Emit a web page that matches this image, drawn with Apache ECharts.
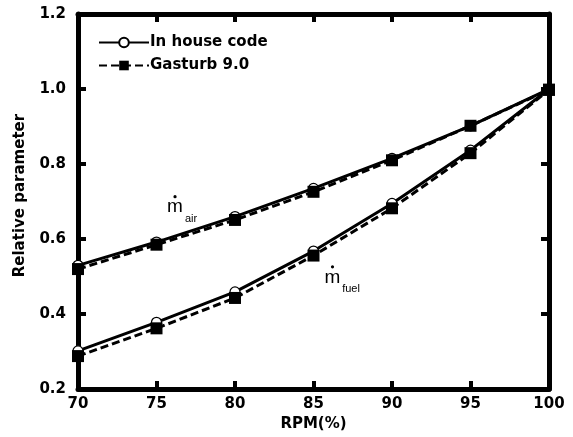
<!DOCTYPE html>
<html>
<head>
<meta charset="utf-8">
<script src="https://cdn.jsdelivr.net/npm/echarts@6/dist/echarts.min.js"></script>
<style>html,body{margin:0;padding:0;background:#fff;}#c{width:573px;height:437px;}</style>
</head>
<body>
<div id="c"></div>
<script>
const rpm = [70, 75, 80, 85, 90, 95, 100];
const airInHouse = [0.530, 0.592, 0.660, 0.735, 0.815, 0.902, 1.000];
const airGasturb = [0.520, 0.585, 0.651, 0.726, 0.810, 0.902, 0.998];
const fuelInHouse = [0.302, 0.378, 0.459, 0.568, 0.695, 0.837, 1.000];
const fuelGasturb = [0.288, 0.362, 0.443, 0.556, 0.682, 0.829, 0.998];
const xTicks = [70, 75, 80, 85, 90, 95, 100];
const yTicks = [0.2, 0.4, 0.6, 0.8, 1.0, 1.2];
const seriesNames = ['In house code', 'Gasturb 9.0'];
const annotations = [
  {sub: 'air', mx: 76.18, my: 0.685, sx: 77.2, sy: 0.653},
  {sub: 'fuel', mx: 86.21, my: 0.498, sx: 87.39, sy: 0.466}
];

const FONT = "'DejaVu Sans', 'Liberation Sans', Arial, sans-serif";
const AFONT = "'Liberation Sans', Arial, sans-serif";
const chart = echarts.init(document.getElementById('c'));
const pair = (xs, ys) => xs.map((x, i) => [x, ys[i]]);

const solid = (name, vals) => ({
  name, type: 'line', data: pair(rpm, vals), xAxisIndex: 0, yAxisIndex: 0,
  symbol: 'circle', symbolSize: 10, z: 2,
  lineStyle: {color: '#000', width: 3},
  itemStyle: {color: '#fff', borderColor: '#000', borderWidth: 1.2},
  emphasis: {disabled: true}, animation: false
});
const dashed = (name, vals) => ({
  name, type: 'line', data: pair(rpm, vals), xAxisIndex: 0, yAxisIndex: 0,
  symbol: 'rect', symbolSize: 12, z: 3,
  lineStyle: {color: '#000', width: 3, type: [8, 4]},
  itemStyle: {color: '#000', borderColor: '#000', borderWidth: 0},
  emphasis: {disabled: true}, animation: false
});

const axisCommon = {
  type: 'value', splitLine: {show: false},
  axisLine: {show: true, lineStyle: {color: '#000', width: 5}},
  axisTick: {show: true, inside: true, length: 8, lineStyle: {color: '#000', width: 4}}
};

chart.setOption({
  animation: false,
  grid: {left: 78, right: 24, top: 14, bottom: 47, containLabel: false},
  legend: {
    orient: 'vertical', left: 93, top: 30, itemWidth: 50, itemHeight: 12, itemGap: 8,
    data: seriesNames,
    textStyle: {fontFamily: FONT, fontWeight: 'bold', fontSize: 15, color: '#000', padding: [0, 0, 0, -4]}
  },
  xAxis: [
    Object.assign({}, axisCommon, {
      position: 'bottom', min: xTicks[0], max: xTicks[xTicks.length - 1], interval: 5,
      name: 'RPM(%)', nameLocation: 'middle', nameGap: 20,
      nameTextStyle: {fontFamily: FONT, fontWeight: 'bold', fontSize: 15, color: '#000'},
      axisLabel: {fontFamily: FONT, fontWeight: 'bold', fontSize: 15, color: '#000', margin: 8}
    }),
    Object.assign({}, axisCommon, {
      position: 'top', min: xTicks[0], max: xTicks[xTicks.length - 1], interval: 5,
      axisLabel: {show: false}
    })
  ],
  yAxis: [
    Object.assign({}, axisCommon, {
      position: 'left', min: yTicks[0], max: yTicks[yTicks.length - 1], interval: 0.2,
      name: 'Relative parameter', nameLocation: 'middle', nameGap: 50, nameRotate: 90,
      nameTextStyle: {fontFamily: FONT, fontWeight: 'bold', fontSize: 15, color: '#000', padding: [0, 0, 0, 12]},
      axisLabel: {fontFamily: FONT, fontWeight: 'bold', fontSize: 15, color: '#000', margin: 12,
        formatter: v => v.toFixed(1)}
    }),
    Object.assign({}, axisCommon, {
      position: 'right', min: yTicks[0], max: yTicks[yTicks.length - 1], interval: 0.2,
      axisLabel: {show: false}
    })
  ],
  series: [
    solid(seriesNames[0], airInHouse),
    solid(seriesNames[0], fuelInHouse),
    dashed(seriesNames[1], airGasturb),
    dashed(seriesNames[1], fuelGasturb)
  ]
});

const g = [];
annotations.forEach(a => {
  const pm = chart.convertToPixel({gridIndex: 0}, [a.mx, a.my]);
  const ps = chart.convertToPixel({gridIndex: 0}, [a.sx, a.sy]);
  g.push({type: 'text', x: pm[0], y: pm[1], style: {text: 'm', fontFamily: AFONT, fontSize: 19, fill: '#000', align: 'center', verticalAlign: 'middle'}, z: 10});
  g.push({type: 'circle', shape: {cx: pm[0], cy: pm[1] - 10.5, r: 1.6}, style: {fill: '#000'}, z: 10});
  g.push({type: 'text', x: ps[0], y: ps[1], style: {text: a.sub, fontFamily: AFONT, fontSize: 11, fill: '#000', align: 'center', verticalAlign: 'middle'}, z: 10});
});
chart.setOption({graphic: g});
</script>
</body>
</html>
